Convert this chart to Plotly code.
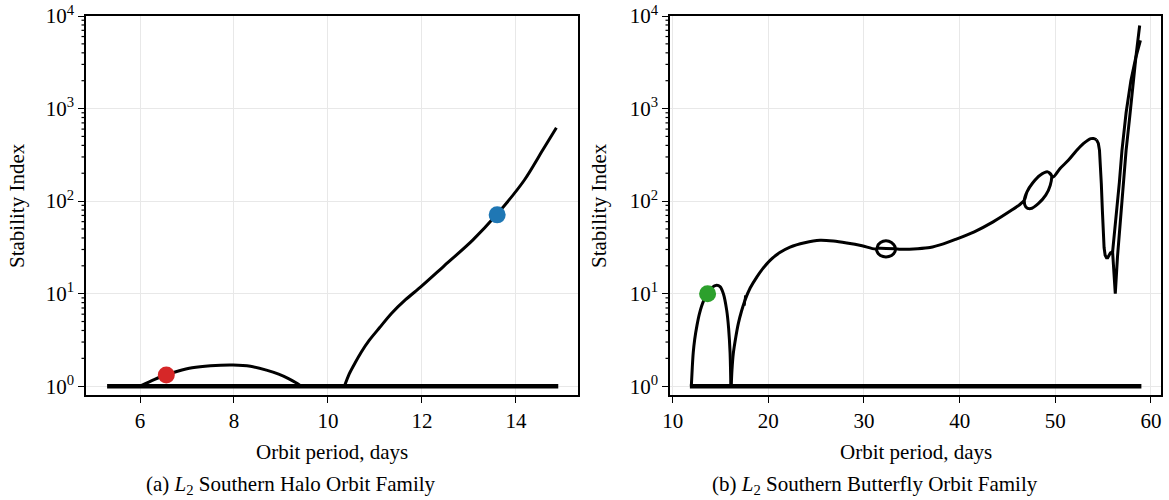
import math
import plotly.graph_objects as go

# ---------------- data: (a) L2 Southern Halo ----------------
halo_flat_x = [5.3, 14.9]
halo_flat_y = [1.0, 1.0]

halo_arc_x = [6.0, 6.3, 6.56, 6.8, 7.11, 7.5, 7.98, 8.35, 8.69, 8.95, 9.16, 9.32, 9.43]
halo_arc_y = [1.0, 1.18, 1.33, 1.45, 1.58, 1.66, 1.69, 1.64, 1.49, 1.35, 1.21, 1.09, 1.0]

halo_rise_x = [10.35, 10.45, 10.57, 10.7, 10.88, 11.1, 11.35, 11.65, 11.98, 12.45, 13.08, 13.58, 14.18, 14.57, 14.86]
halo_rise_y = [1.0, 1.35, 1.76, 2.3, 3.14, 4.3, 6.1, 8.6, 11.9, 19.5, 37.9, 70.6, 169, 356, 621]

halo_pts_x = [6.56, 13.6]
halo_pts_y = [1.32, 71.0]
halo_pts_c = ["#d62728", "#1f77b4"]

# ---------------- data: (b) L2 Southern Butterfly ----------------
bf_flat_x = [11.8, 59.0]
bf_flat_y = [1.0, 1.0]

bf_hump_x = [11.95, 12.05, 12.15, 12.3, 12.55, 12.8, 13.2, 13.66, 14.1, 14.6, 14.95, 15.3, 15.65, 15.85, 16.0, 16.08]
bf_hump_y = [1.0, 1.6, 2.3, 3.2, 4.6, 6.1, 8.2, 10.0, 11.6, 12.3, 11.9, 10.0, 6.6, 4.2, 2.3, 1.0]

# smooth part: rise, plateau, first loop, second loop
bf_main_x = [16.12, 16.2, 16.34, 16.6, 16.86, 17.2, 17.56, 18.1, 18.79, 19.4, 20.18, 21.2, 22.27, 23.8, 25.4, 26.8, 28.2, 29.8, 31.3,
             31.5, 32.0, 32.6, 33.1, 33.3, 33.1, 32.6, 32.0, 31.5, 31.3,
             31.6, 33.3, 33.8, 35.6, 36.9, 38.3, 39.56, 41.53, 43.5, 45.45, 46.3, 46.76,
             47.04, 47.63, 48.41, 49.2, 49.59, 49.47, 49.0, 48.22, 47.43, 46.92, 46.76,
             47.04, 47.63, 48.41, 49.2, 49.59,
             49.79, 50.5, 51.36, 52.2, 52.93, 53.4, 53.71, 54.0, 54.3]
bf_main_y = [1.0, 1.5, 2.26, 3.4, 4.75, 6.5, 8.5, 11.5, 15.1, 18.5, 22.9, 27.8, 31.9, 35.5, 37.7, 37.0, 35.3, 33.0, 30.5,
             34.0, 36.8, 36.8, 34.0, 30.5, 27.0, 25.2, 25.2, 27.0, 30.5,
             31.0, 30.5, 30.2, 30.6, 31.5, 34.5, 38.5, 46.6, 59.7, 80.0, 92.0, 102,
             126, 157, 190, 207, 190, 148, 116, 94, 83, 86.5, 102,
             126, 157, 190, 207, 190,
             182, 225, 276, 350, 418, 455, 473, 475, 462]

# small kink on the rising branch
bf_kink_x = [17.5, 17.6]
bf_kink_y = [7.4, 9.6]

# sharp part: drop, hook, narrow dip, steep right arm
bf_spike_x = [54.3, 54.5, 54.62, 54.72, 54.81, 54.92, 55.01, 55.1, 55.21,
              55.35, 55.48, 55.62, 55.76, 55.99, 56.12, 56.27,
              56.5, 56.8, 57.1, 57.4, 57.75, 58.1, 58.45, 58.82]
bf_spike_y = [462, 420, 354, 240, 155, 80, 44.6, 31.5, 26.0,
              24.5, 24.5, 26.5, 27.5, 28.3, 18.0, 10.0,
              25.0, 60.0, 150, 354, 760, 1800, 3800, 7900]

bf_branch_x = [55.99, 56.2, 56.4, 56.7, 56.97, 57.4, 57.9, 58.4, 58.9]
bf_branch_y = [28.3, 45.0, 70.0, 160, 354, 900, 2000, 3500, 5460]

bf_pts_x = [13.65]
bf_pts_y = [10.0]
bf_pts_c = ["#2ca02c"]

# ---------------- axis ticks ----------------
y_major_vals = [1, 10, 100, 1000, 10000]
y_major_text = ["10<sup>0</sup>", "10<sup>1</sup>", "10<sup>2</sup>", "10<sup>3</sup>", "10<sup>4</sup>"]
y_minor_vals = [m * 10 ** k for k in range(4) for m in range(2, 10)]
x1_ticks = [6, 8, 10, 12, 14]
x2_ticks = [10, 20, 30, 40, 50, 60]

FONT = "Liberation Serif, Times New Roman, serif"
FS = 21
YRANGE = [-0.095, 4.0]
W, H = 1169, 500

fig = go.Figure()

def add_line(x, y, xa, ya, w, shape="linear"):
    fig.add_trace(go.Scatter(x=x, y=y, mode="lines", xaxis=xa, yaxis=ya,
                             line=dict(color="black", width=w, shape=shape, smoothing=0.8),
                             showlegend=False, hoverinfo="skip"))

add_line(halo_flat_x, halo_flat_y, "x", "y", 4.5)
add_line(halo_arc_x, halo_arc_y, "x", "y", 3.0, "spline")
add_line(halo_rise_x, halo_rise_y, "x", "y", 3.0, "spline")
fig.add_trace(go.Scatter(x=halo_pts_x, y=halo_pts_y, mode="markers", xaxis="x", yaxis="y",
                         marker=dict(color=halo_pts_c, size=17), showlegend=False))

add_line(bf_flat_x, bf_flat_y, "x2", "y2", 4.5)
add_line(bf_hump_x, bf_hump_y, "x2", "y2", 3.0, "spline")
add_line(bf_main_x, bf_main_y, "x2", "y2", 3.0, "spline")
add_line(bf_kink_x, bf_kink_y, "x2", "y2", 2.5)
add_line(bf_spike_x, bf_spike_y, "x2", "y2", 3.0)
add_line(bf_branch_x, bf_branch_y, "x2", "y2", 3.0)
fig.add_trace(go.Scatter(x=bf_pts_x, y=bf_pts_y, mode="markers", xaxis="x2", yaxis="y2",
                         marker=dict(color=bf_pts_c, size=17), showlegend=False))

ydom = [1 - 395 / H, 1 - 16 / H]
d1 = [86 / W, 578 / W]
d2 = [670 / W, 1161 / W]

common_axis = dict(showline=True, linecolor="black", linewidth=1.6, mirror=True,
                   ticks="outside", ticklen=6, tickwidth=1.4, tickcolor="black",
                   showgrid=True, gridcolor="#e8e8e8", gridwidth=1, zeroline=False,
                   automargin=False,
                   tickfont=dict(family=FONT, size=FS, color="black"))

yaxis_common = dict(common_axis, type="log", range=YRANGE,
                    tickmode="array", tickvals=y_major_vals, ticktext=y_major_text)

fig.update_layout(
    template="none",
    width=W, height=H,
    margin=dict(l=0, r=0, t=0, b=0, autoexpand=False),
    paper_bgcolor="white", plot_bgcolor="white",
    font=dict(family=FONT, size=FS, color="black"),
    xaxis=dict(common_axis, domain=d1, anchor="y", range=[4.851, 15.32],
               tickmode="array", tickvals=x1_ticks),
    yaxis=dict(yaxis_common, domain=ydom, anchor="x"),
    xaxis2=dict(common_axis, domain=d2, anchor="y2", range=[9.72, 61.05],
                tickmode="array", tickvals=x2_ticks),
    yaxis2=dict(yaxis_common, domain=ydom, anchor="x2"),
)

# minor log ticks on the y axes, placed through the axis' own log mapping
shapes = []
for dom in (d1, d2):
    for v in y_minor_vals:
        frac = (math.log10(v) - YRANGE[0]) / (YRANGE[1] - YRANGE[0])
        yp = ydom[0] + frac * (ydom[1] - ydom[0])
        shapes.append(dict(type="line", xref="paper", yref="paper",
                           x0=dom[0] - 0.8 / W, x1=dom[0] - 4.5 / W, y0=yp, y1=yp,
                           line=dict(color="black", width=1.2)))
fig.update_layout(shapes=shapes)

ann = []
ann.append(dict(text="Orbit period, days", x=(d1[0] + d1[1]) / 2, y=1 - 452 / H))
ann.append(dict(text="Orbit period, days", x=(d2[0] + d2[1]) / 2, y=1 - 452 / H))
ann.append(dict(text="(a) <i>L</i><sub>2</sub> Southern Halo Orbit Family", x=291 / W, y=1 - 485 / H))
ann.append(dict(text="(b) <i>L</i><sub>2</sub> Southern Butterfly Orbit Family", x=875 / W, y=1 - 485 / H))
ann.append(dict(text="Stability Index", x=17 / W, y=1 - 206 / H, textangle=-90))
ann.append(dict(text="Stability Index", x=599 / W, y=1 - 206 / H, textangle=-90))
for a in ann:
    a.update(xref="paper", yref="paper", showarrow=False, xanchor="center", yanchor="middle",
             font=dict(family=FONT, size=FS, color="black"))
fig.update_layout(annotations=ann)

fig.write_html("out.html")
